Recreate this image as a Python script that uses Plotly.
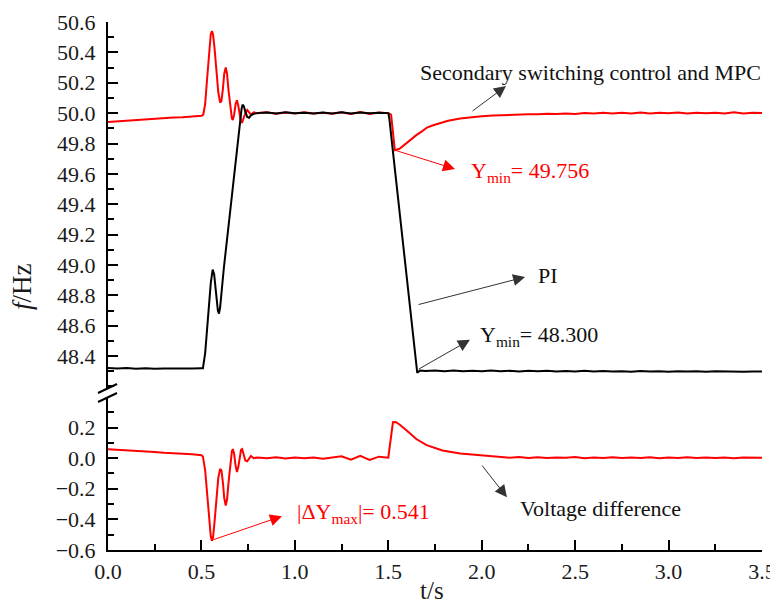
import plotly.graph_objects as go

# ---------------- data ----------------
mpc_t = [0.0, 0.05, 0.1, 0.15, 0.2, 0.25, 0.3, 0.35, 0.4, 0.45, 0.5,
         0.51, 0.52, 0.53, 0.54, 0.55, 0.556, 0.562, 0.57, 0.58, 0.59, 0.60, 0.607, 0.615, 0.622, 0.63, 0.637,
         0.645, 0.655, 0.663, 0.668, 0.675, 0.683, 0.69, 0.697, 0.705, 0.712, 0.718, 0.725, 0.735, 0.745, 0.755,
         0.765, 0.78,
         0.8, 0.85, 0.9, 0.95, 1.0, 1.05, 1.1, 1.15, 1.2, 1.25, 1.3, 1.35, 1.4, 1.45, 1.5,
         1.515, 1.535, 1.56, 1.585, 1.615, 1.65, 1.68, 1.707, 1.74, 1.777, 1.82, 1.885, 1.95, 2.0, 2.06,
         2.1, 2.15, 2.2, 2.25, 2.3, 2.35, 2.4, 2.45, 2.5, 2.55, 2.6, 2.65, 2.7, 2.75, 2.8, 2.85, 2.9, 2.95,
         3.0, 3.05, 3.1, 3.15, 3.2, 3.25, 3.3, 3.35, 3.4, 3.45, 3.5]
mpc_f = [49.942, 49.946, 49.951, 49.955, 49.962, 49.964, 49.969, 49.972, 49.973, 49.978, 49.982,
         49.99, 50.06, 50.22, 50.40, 50.52, 50.54, 50.52, 50.43, 50.28, 50.14, 50.07, 50.08, 50.16, 50.26, 50.30, 50.26,
         50.15, 50.03, 49.965, 49.955, 49.99, 50.06, 50.085, 50.05, 49.98, 49.94, 49.94, 49.965, 50.0, 50.02, 50.005,
         49.99, 50.005,
         50.0, 50.006, 49.996, 50.004, 49.998, 50.005, 49.997, 50.003, 49.996, 50.006, 49.995, 50.008, 49.994, 50.004, 50.0,
         49.99, 49.756, 49.765, 49.79, 49.822, 49.855, 49.88, 49.905, 49.92, 49.934, 49.95, 49.965, 49.974, 49.979, 49.984,
         49.986, 49.99, 49.988, 49.993, 49.992, 49.996, 49.994, 49.998, 49.995, 50.001, 49.997, 50.002, 49.998, 50.003, 49.997,
         50.004, 49.998, 50.002, 49.999, 50.004, 49.997, 50.003, 49.999, 50.002, 49.998, 50.005, 49.998, 50.003, 50.0]

pi_t = [0.0, 0.05, 0.1, 0.15, 0.2, 0.25, 0.3, 0.35, 0.4, 0.45, 0.5,
        0.508, 0.52, 0.535, 0.55, 0.56, 0.568, 0.578, 0.588, 0.594, 0.60, 0.62, 0.65, 0.68, 0.70, 0.708, 0.715,
        0.72, 0.727, 0.735, 0.745, 0.755, 0.765, 0.78,
        0.8, 0.85, 0.9, 0.95, 1.0, 1.05, 1.1, 1.15, 1.2, 1.25, 1.3, 1.35, 1.4, 1.45, 1.5,
        1.505, 1.655, 1.67,
        1.7, 1.75, 1.8, 1.85, 1.9, 1.95, 2.0, 2.05, 2.1, 2.15, 2.2, 2.25, 2.3, 2.35, 2.4, 2.45, 2.5, 2.55,
        2.6, 2.65, 2.7, 2.75, 2.8, 2.85, 2.9, 2.95, 3.0, 3.05, 3.1, 3.15, 3.2, 3.25, 3.3, 3.35, 3.4, 3.45, 3.5]
pi_f = [48.322, 48.318, 48.321, 48.317, 48.320, 48.316, 48.319, 48.317, 48.320, 48.318, 48.320,
        48.32, 48.42, 48.66, 48.88, 48.97, 48.94, 48.82, 48.70, 48.68, 48.72, 48.98, 49.32, 49.64, 49.87, 49.96, 50.03,
        50.055, 50.045, 50.01, 49.975, 49.97, 49.985, 49.995,
        50.0, 50.004, 49.998, 50.005, 49.999, 50.003, 49.997, 50.004, 49.998, 50.005, 49.998, 50.004, 49.999, 50.003, 50.0,
        49.97, 48.29, 48.305,
        48.302, 48.306, 48.301, 48.305, 48.300, 48.304, 48.301, 48.305, 48.300, 48.303, 48.299, 48.304, 48.300,
        48.303, 48.299, 48.302, 48.298, 48.303, 48.299, 48.302, 48.298, 48.301, 48.297, 48.302, 48.298, 48.301,
        48.297, 48.300, 48.298, 48.301, 48.297, 48.300, 48.298, 48.300, 48.297, 48.299, 48.298]

dv_t = [0.0, 0.05, 0.1, 0.15, 0.2, 0.25, 0.3, 0.35, 0.4, 0.45, 0.5,
        0.508, 0.52, 0.53, 0.54, 0.55, 0.556, 0.562, 0.57, 0.58, 0.59, 0.60, 0.607, 0.615, 0.622, 0.63, 0.637,
        0.645, 0.655, 0.663, 0.668, 0.675, 0.683, 0.69, 0.697, 0.705, 0.712, 0.718, 0.725, 0.735, 0.745, 0.755,
        0.765, 0.78,
        0.8, 0.85, 0.9, 0.95, 1.0, 1.05, 1.1, 1.15, 1.2, 1.25, 1.3, 1.35, 1.4, 1.45, 1.5,
        1.525, 1.54, 1.56, 1.6, 1.615, 1.65, 1.705, 1.75, 1.79, 1.885, 1.97, 2.05,
        2.1, 2.15, 2.2, 2.25, 2.3, 2.35, 2.4, 2.45, 2.5, 2.55, 2.6, 2.65, 2.7, 2.75, 2.8, 2.85, 2.9, 2.95,
        3.0, 3.05, 3.1, 3.15, 3.2, 3.25, 3.3, 3.35, 3.4, 3.45, 3.5]
dv_v = [0.058, 0.055, 0.05, 0.048, 0.042, 0.04, 0.035, 0.033, 0.027, 0.025, 0.02,
        0.01, -0.08, -0.22, -0.38, -0.51, -0.54, -0.52, -0.42, -0.28, -0.13, -0.07, -0.08, -0.16, -0.26, -0.31, -0.27,
        -0.16, -0.03, 0.045, 0.06, 0.03, -0.05, -0.09, -0.06, 0.01, 0.055, 0.06, 0.03, -0.015, -0.02, 0.0,
        0.015, 0.0,
        0.005, 0.0, 0.006, -0.002, 0.004, 0.0, 0.005, -0.003, 0.004, 0.012, -0.01, 0.015, -0.012, 0.01, 0.003,
        0.235, 0.237, 0.22, 0.18, 0.163, 0.125, 0.085, 0.065, 0.05, 0.03, 0.02, 0.012,
        0.006, 0.003, 0.007, 0.002, 0.006, 0.001, 0.005, 0.003, 0.007, 0.0, 0.005, 0.002, 0.006, 0.001, 0.005,
        0.002, 0.006, 0.0, 0.004, 0.002, 0.006, 0.001, 0.005, 0.002, 0.004, 0.0, 0.005, 0.002, 0.003]

x_ticks = [0.0, 0.5, 1.0, 1.5, 2.0, 2.5, 3.0, 3.5]
y_top_ticks = [48.4, 48.6, 48.8, 49.0, 49.2, 49.4, 49.6, 49.8, 50.0, 50.2, 50.4, 50.6]
y_bot_ticks = [-0.6, -0.4, -0.2, 0.0, 0.2]

# annotated extremes
mpc_min_t, mpc_min = 1.535, 49.756
pi_min_t, pi_min = 1.655, 48.300
dv_max_t, dv_max = 0.556, 0.541

# ---------------- figure ----------------
FONT = "Liberation Serif, Times New Roman, serif"
RED = "#ff0000"
fig = go.Figure()
fig.add_trace(go.Scatter(x=mpc_t, y=mpc_f, mode="lines", line=dict(color=RED, width=2), xaxis="x", yaxis="y"))
fig.add_trace(go.Scatter(x=pi_t, y=pi_f, mode="lines", line=dict(color="#000000", width=2), xaxis="x", yaxis="y"))
fig.add_trace(go.Scatter(x=dv_t, y=dv_v, mode="lines", line=dict(color=RED, width=2), xaxis="x", yaxis="y2"))

tickfont = dict(family=FONT, size=22, color="#1a1a1a")
common_y = dict(showline=True, linecolor="black", linewidth=2, ticks="inside", ticklen=10, tickwidth=2,
                tickcolor="black", showgrid=False, zeroline=False, tickfont=tickfont, ticklabelstandoff=6,
                tickformat=".1f", automargin=False)

fig.update_layout(
    # the page body adds an 8px offset; the figure is a bit larger so the right-most label is not clipped
    width=786, height=608,
    margin=dict(l=100, r=32, t=14, b=66),
    paper_bgcolor="white", plot_bgcolor="white",
    showlegend=False,
    xaxis=dict(range=[0, 3.5], tickvals=x_ticks, tickformat=".1f", showline=True, linecolor="black", linewidth=2,
               ticks="inside", ticklen=10, tickwidth=2, tickcolor="black", showgrid=False, zeroline=False,
               tickfont=tickfont, anchor="y2", ticklabelstandoff=1, automargin=False,
               minor=dict(ticks="inside", ticklen=6, tickwidth=2, tickcolor="black", dtick=0.25, showgrid=False)),
    yaxis=dict(domain=[0.3068, 1.0], range=[48.19, 50.6], tickvals=y_top_ticks, anchor="x",
               minor=dict(ticks="inside", ticklen=6, tickwidth=2, tickcolor="black", dtick=0.1, tick0=0,
                          showgrid=False), **common_y),
    yaxis2=dict(domain=[0.0, 0.2898], range=[-0.6, 0.4], tickvals=y_bot_ticks, anchor="x",
                minor=dict(ticks="inside", ticklen=6, tickwidth=2, tickcolor="black", dtick=0.1, tick0=0,
                           showgrid=False), **common_y),
)

# axis break marks
for y0, y1 in [(0.2973, 0.3144), (0.2803, 0.2973)]:
    fig.add_shape(type="line", xref="paper", yref="paper", x0=-0.0153, x1=0.0138, y0=y0, y1=y1,
                  line=dict(color="black", width=2))

txt = dict(family=FONT, size=22)

def arrow(x, y, ax, ay, yref, color):
    fig.add_annotation(x=x, y=y, ax=ax, ay=ay, xref="x", yref=yref, axref="x", ayref=yref, text="",
                       showarrow=True, arrowhead=2, arrowsize=2.4, arrowwidth=1, arrowcolor=color)

def label(x, y, text, yref, color):
    fig.add_annotation(x=x, y=y, xref="x", yref=yref, text=text, showarrow=False, xanchor="left",
                       yanchor="middle", font=dict(color=color, **txt))

arrow(2.13, 50.178, 1.943, 50.007, "y", "#333333")
label(1.659, 50.27, "Secondary switching control and MPC", "y", "#111111")

arrow(1.857, 49.632, mpc_min_t, mpc_min, "y", RED)
label(1.932, 49.615, f"Y<sub>min</sub>= {mpc_min:.3f}", "y", RED)

arrow(2.232, 48.921, 1.654, 48.737, "y", "#333333")
label(2.29, 48.934, "PI", "y", "#111111")

arrow(1.937, 48.507, pi_min_t, pi_min + 0.009, "y", "#333333")
label(1.98, 48.53, f"Y<sub>min</sub>= {pi_min:.3f}", "y", "#111111")

arrow(0.931, -0.379, dv_max_t, -dv_max + 0.005, "y2", RED)
label(1.0, -0.36, f"|ΔY<sub>max</sub>|= {dv_max:.3f}", "y2", RED)

arrow(2.135, -0.255, 1.996, -0.039, "y2", "#333333")
label(2.194, -0.327, "Voltage difference", "y2", "#111111")

# axis titles
fig.add_annotation(x=-0.1315, y=0.5, xref="paper", yref="paper", text="<i>f</i>/Hz", textangle=-90,
                   showarrow=False, font=dict(family=FONT, size=27, color="#1a1a1a"),
                   xanchor="center", yanchor="middle")
fig.add_annotation(x=0.495, y=-0.0758, xref="paper", yref="paper", text="t/s",
                   showarrow=False, font=dict(family=FONT, size=25, color="#1a1a1a"),
                   xanchor="center", yanchor="middle")

fig.write_html("out.html")
